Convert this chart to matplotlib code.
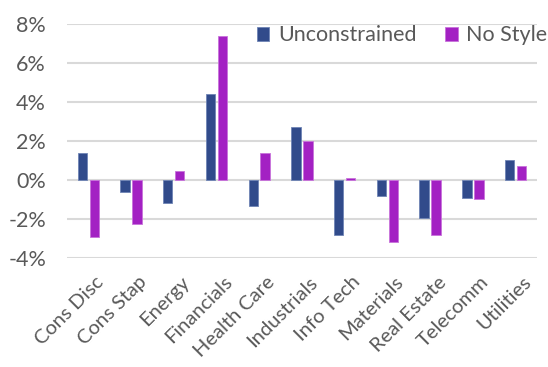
import matplotlib
matplotlib.use("Agg")
import matplotlib.pyplot as plt
import matplotlib.transforms as mtransforms
import numpy as np

plt.rcParams['font.family'] = ['Lato', 'DejaVu Sans']

sectors = ["Cons Disc", "Cons Stap", "Energy", "Financials", "Health Care",
           "Industrials", "Info Tech", "Materials", "Real Estate", "Telecomm", "Utilities"]
unconstrained = [1.40, -0.63, -1.20, 4.38, -1.33, 2.72, -2.80, -0.80, -1.93, -0.90, 1.03]
no_style = [-2.90, -2.26, 0.48, 7.40, 1.40, 2.02, 0.10, -3.16, -2.80, -0.96, 0.72]
yticks = [-4, -2, 0, 2, 4, 6, 8]

blue = "#314B8B"
purple = "#A321C3"
text_col = "#595959"
fs = 15.5

fig = plt.figure(figsize=(5.48, 3.67), dpi=100)
ax = fig.add_axes([0.122, 0.297, 0.858, 0.638])

x = np.arange(len(sectors))
w = 0.22
ax.bar(x - 0.14, unconstrained, w, color=blue, edgecolor="#6F84B5", linewidth=0.6,
       label="Unconstrained", zorder=3)
ax.bar(x + 0.14, no_style, w, color=purple, edgecolor="#C873DB", linewidth=0.6,
       label="No Style", zorder=3)

ax.set_xlim(-0.5, len(sectors) - 0.5)
ax.set_ylim(-4, 8)
ax.set_yticks(yticks)
ax.set_yticklabels([f"{v}%" for v in yticks])
ax.yaxis.grid(True, color="#D9D9D9", linewidth=1.5, zorder=0)
for s in ax.spines.values():
    s.set_visible(False)
ax.tick_params(axis="both", length=0, labelsize=fs, colors=text_col)
ax.tick_params(axis="y", pad=15)
ax.set_xticks(x)
ax.set_xticklabels(sectors, rotation=45, ha="right", rotation_mode="anchor", fontsize=14.5)
ax.tick_params(axis="x", pad=11)
shift = mtransforms.ScaledTranslation(5 / 72, 0, fig.dpi_scale_trans)
for lbl in ax.get_xticklabels():
    lbl.set_transform(lbl.get_transform() + shift)

leg = ax.legend(loc="upper right", bbox_to_anchor=(1.04, 1.03), ncol=2, frameon=False,
                fontsize=fs, handlelength=0.6, handleheight=0.6, handletextpad=0.4,
                columnspacing=1.3, borderaxespad=0)
for t in leg.get_texts():
    t.set_color(text_col)

fig.savefig("out.png", dpi=100)
